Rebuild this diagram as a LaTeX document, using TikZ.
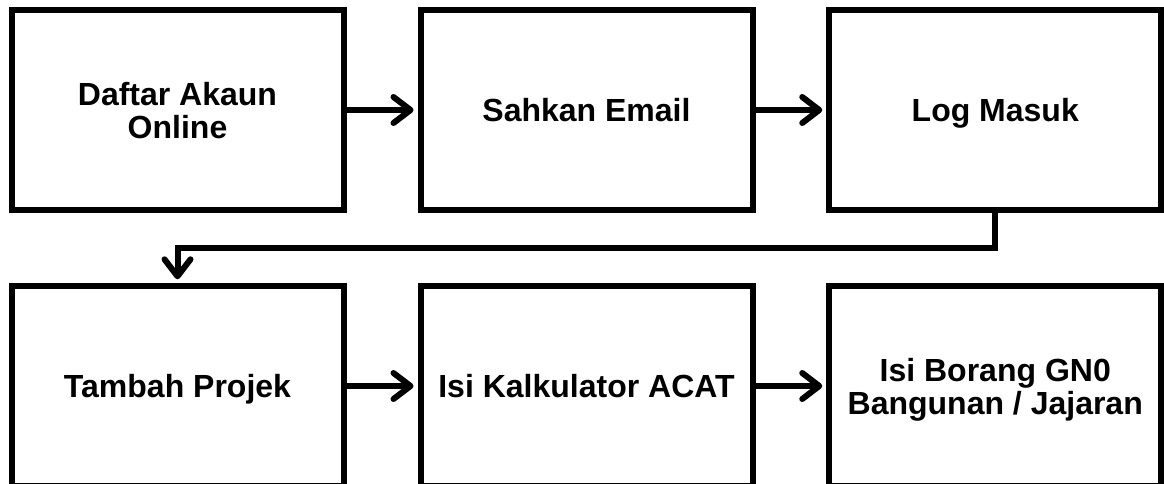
\documentclass[tikz,border=0pt]{standalone}
\usepackage{fontspec}
\setmainfont{Liberation Sans}
\usetikzlibrary{arrows.meta}
\newcommand{\boxlines}[1]{\begin{tabular}{@{}c@{}}#1\end{tabular}}
\tikzset{
  stepbox/.style={draw=black, line width=6pt, minimum width=332pt, minimum height=199.4pt,
    inner sep=0pt, text height=30pt, text depth=7.2pt,
    font=\fontsize{32}{33}\selectfont\bfseries},
  flow/.style={line width=6pt, -{Straight Barb[length=17pt,width=26pt,round]}, shorten >=4pt}
}
\begin{document}
\begin{tikzpicture}[x=1pt,y=1pt]
\useasboundingbox (0,0) rectangle (1164,-484);
\fill[white] (0,0) rectangle (1164,-484);
\begin{scope}
\clip (0,0) rectangle (1164,-484);
\node[stepbox] (daftar) at (177.5,-110) {\boxlines{Daftar Akaun\\Online}};
\node[stepbox] (sahkan) at (586.5,-110) {\boxlines{Sahkan Email}};
\node[stepbox] (log) at (995.25,-110) {\boxlines{Log Masuk}};
\node[stepbox] (tambah) at (177.5,-386) {\boxlines{Tambah Projek}};
\node[stepbox] (isi) at (586.5,-386) {\boxlines{Isi Kalkulator ACAT}};
\node[stepbox] (borang) at (995.25,-386) {\boxlines{Isi Borang GN0\\Bangunan / Jajaran}};
\coordinate (bendR) at (995.25,-248);
\coordinate (bendL) at (177.5,-248);
\draw[flow] (daftar) -- (sahkan);
\draw[flow] (sahkan) -- (log);
\draw[flow] (tambah) -- (isi);
\draw[flow] (isi) -- (borang);
\draw[flow, line join=miter] (log.south) -- (bendR) -- (bendL) -- (tambah.north);
\end{scope}
\end{tikzpicture}
\end{document}
